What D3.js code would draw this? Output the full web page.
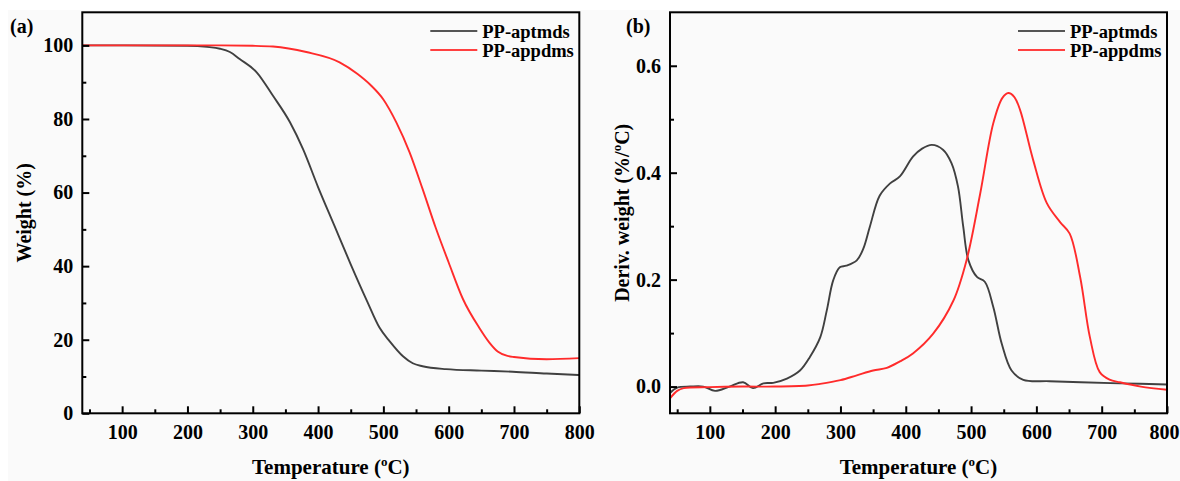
<!DOCTYPE html>
<html>
<head>
<meta charset="utf-8">
<script src="https://cdn.jsdelivr.net/npm/d3@7"></script>
<style>
  html, body { margin: 0; padding: 0; background: #fafafa; }
  svg { display: block; }
  text { font-family: "Liberation Serif", "Times New Roman", serif; font-weight: bold; fill: #000; }
</style>
</head>
<body>
<div id="chart"></div>
<script>
// ── Data ─────────────────────────────────────────────────────────────────────
const SERIES_NAMES = ['PP-aptmds', 'PP-appdms'];
const SERIES_COLORS = ['#404040', '#ff2b2b'];

// (a) TGA curves
const TGA_TEMP_APTMDS   = [39, 100, 200, 230, 250, 265, 280, 306, 331, 357, 377, 400, 425, 450, 475, 494, 510, 530, 545, 560, 596, 650, 698, 750, 800];
const TGA_WEIGHT_APTMDS = [100, 100, 99.9, 99.6, 99.1, 98.2, 96.3, 92.7, 86.3, 79.1, 71.8, 61.5, 51, 40.5, 30.5, 23.3, 19.5, 15.5, 13.6, 12.8, 12.0, 11.6, 11.3, 10.8, 10.4];
const TGA_TEMP_APPDMS   = [39, 250, 300, 331, 382, 433, 460, 480, 500, 520, 540, 560, 580, 600, 622, 647, 662, 675, 690, 700, 750, 800];
const TGA_WEIGHT_APPDMS = [100, 100, 99.9, 99.7, 98.2, 95.4, 92.3, 89.3, 85.3, 79, 71, 61, 50.5, 41, 31, 23.2, 19.3, 16.8, 15.6, 15.3, 14.7, 15.0];

// (b) DTG curves
const DTG_TEMP_APTMDS  = [39, 50, 70, 90, 108, 130, 151, 166, 182, 197, 218, 238, 253, 269, 279, 289, 299, 309, 325, 335, 345, 360, 376, 391, 411, 425, 440, 457, 470, 480, 488, 496, 509, 521, 534, 547, 562, 580, 620, 668, 730, 800];
const DTG_DERIV_APTMDS = [-0.012, -0.002, 0.0, 0.0, -0.008, 0.0, 0.008, -0.003, 0.006, 0.007, 0.015, 0.030, 0.055, 0.092, 0.142, 0.199, 0.223, 0.226, 0.236, 0.258, 0.299, 0.357, 0.380, 0.393, 0.430, 0.445, 0.452, 0.443, 0.418, 0.374, 0.299, 0.236, 0.205, 0.196, 0.149, 0.080, 0.030, 0.0125, 0.010, 0.008, 0.006, 0.004];
const DTG_TEMP_APPDMS  = [39, 50, 60, 100, 150, 200, 250, 269, 300, 325, 350, 371, 391, 411, 442, 473, 493, 514, 534, 548, 557, 566, 575, 595, 616, 636, 651, 667, 682, 697, 712, 728, 760, 800];
const DTG_DERIV_APPDMS = [-0.022, -0.008, -0.003, -0.001, 0.0, 0.0, 0.002, 0.005, 0.012, 0.021, 0.030, 0.035, 0.047, 0.062, 0.099, 0.161, 0.236, 0.361, 0.4925, 0.540, 0.549, 0.542, 0.5175, 0.424, 0.343, 0.308, 0.286, 0.205, 0.092, 0.027, 0.013, 0.008, 0.0, -0.006];

// Axes
const TEMP_DOMAIN   = [39, 800];
const TEMP_MAJOR    = [100, 200, 300, 400, 500, 600, 700, 800];
const TEMP_MINOR    = [50, 150, 250, 350, 450, 550, 650, 750];
const WEIGHT_DOMAIN = [0, 109];
const WEIGHT_MAJOR  = [0, 20, 40, 60, 80, 100];
const WEIGHT_MINOR  = [10, 30, 50, 70, 90];
const DERIV_DOMAIN  = [-0.05, 0.70];
const DERIV_MAJOR   = [0.0, 0.2, 0.4, 0.6];
const DERIV_MINOR   = [0.1, 0.3, 0.5];

const zip = (xs, ys) => xs.map((x, i) => [x, ys[i]]);

// ── Layout ───────────────────────────────────────────────────────────────────
const W = 1180, H = 481;
const svg = d3.select('#chart').append('svg')
  .attr('width', W).attr('height', H);

// white strips around the scanned figure
svg.append('rect').attr('x', 0).attr('y', 0).attr('width', W).attr('height', 10).attr('fill', '#fff');
svg.append('rect').attr('x', 0).attr('y', 0).attr('width', 8).attr('height', H).attr('fill', '#fff');

function drawPanel(opt) {
  const { left, right, top, bottom } = opt;
  const x = d3.scaleLinear().domain(TEMP_DOMAIN).range([left, right]);
  const y = d3.scaleLinear().domain(opt.yDomain).range([bottom, top]);
  const g = svg.append('g');

  // Curves
  const line = d3.line()
    .x(d => x(d[0])).y(d => y(d[1]))
    .curve(opt.curve);
  opt.series.forEach((s, i) => {
    g.append('path')
      .datum(s)
      .attr('fill', 'none')
      .attr('stroke', SERIES_COLORS[i])
      .attr('stroke-width', 1.9)
      .attr('stroke-linejoin', 'round')
      .attr('d', line);
  });

  // Axes (ticks point inward)
  const tickStyle = sel => {
    sel.select('.domain').remove();
    sel.selectAll('line').attr('stroke', '#000').attr('stroke-width', 2);
    sel.selectAll('text')
      .style('font-family', '"Liberation Serif", "Times New Roman", serif')
      .style('font-weight', 'bold').style('font-size', '20px').attr('fill', '#000');
  };

  const xAxis = g.append('g').attr('transform', `translate(0,${bottom})`)
    .call(d3.axisBottom(x).tickValues(TEMP_MAJOR).tickSize(-7).tickPadding(12).tickFormat(d3.format('d')))
    .call(tickStyle);
  // keep the last label inside the window
  if (opt.nudgeLast) {
    xAxis.selectAll('.tick').filter(d => d === 800).select('text').attr('x', opt.nudgeLast);
  }
  g.append('g').attr('transform', `translate(0,${bottom})`)
    .call(d3.axisBottom(x).tickValues(TEMP_MINOR).tickSize(-4).tickFormat(''))
    .call(tickStyle);

  g.append('g').attr('transform', `translate(${left},0)`)
    .call(d3.axisLeft(y).tickValues(opt.yMajor).tickSize(-7).tickPadding(9).tickFormat(opt.yFormat))
    .call(tickStyle);
  g.append('g').attr('transform', `translate(${left},0)`)
    .call(d3.axisLeft(y).tickValues(opt.yMinor).tickSize(-4).tickFormat(''))
    .call(tickStyle);

  // Frame
  g.append('rect')
    .attr('x', left).attr('y', top)
    .attr('width', right - left).attr('height', bottom - top)
    .attr('fill', 'none').attr('stroke', '#000').attr('stroke-width', 2);

  // Panel tag
  g.append('text')
    .attr('x', opt.tagX).attr('y', 33)
    .style('font-size', '20px')
    .text(opt.tag);

  // X title with superscript o
  const xt = g.append('text')
    .attr('x', (left + right) / 2).attr('y', 474)
    .attr('text-anchor', 'middle')
    .style('font-size', '21px');
  xt.append('tspan').text('Temperature (');
  xt.append('tspan').attr('dy', -8).style('font-size', '13px').text('o');
  xt.append('tspan').attr('dy', 8).text('C)');

  // Y title
  const yt = g.append('text')
    .attr('transform', `translate(${opt.yTitleX},${(top + bottom) / 2}) rotate(-90)`)
    .attr('text-anchor', 'middle')
    .style('font-size', '20px');
  opt.yTitle.forEach(part => {
    const t = yt.append('tspan').text(part.text);
    if (part.sup) t.attr('dy', -8).style('font-size', '13px');
    if (part.after) t.attr('dy', 8);
  });

  // Legend
  const lx = right - 149;
  SERIES_NAMES.forEach((name, i) => {
    const ly = 31 + i * 19;
    g.append('line')
      .attr('x1', lx).attr('x2', lx + 47)
      .attr('y1', ly).attr('y2', ly)
      .attr('stroke', i === 0 ? '#555' : '#ff4040')
      .attr('stroke-width', 2);
    g.append('text')
      .attr('x', lx + 52).attr('y', ly + 6.5)
      .style('font-size', '18.5px')
      .text(name);
  });
}

drawPanel({
  left: 82.3, right: 579.3, top: 12.3, bottom: 413.3,
  yDomain: WEIGHT_DOMAIN, yMajor: WEIGHT_MAJOR, yMinor: WEIGHT_MINOR,
  yFormat: d3.format('d'),
  curve: d3.curveMonotoneX,
  series: [zip(TGA_TEMP_APTMDS, TGA_WEIGHT_APTMDS), zip(TGA_TEMP_APPDMS, TGA_WEIGHT_APPDMS)],
  tag: '(a)', tagX: 10,
  yTitleX: 31,
  yTitle: [{ text: 'Weight (%)' }]
});

drawPanel({
  left: 670, right: 1167, top: 12.3, bottom: 413.3,
  yDomain: DERIV_DOMAIN, yMajor: DERIV_MAJOR, yMinor: DERIV_MINOR,
  yFormat: d3.format('.1f'),
  curve: d3.curveCatmullRom.alpha(0.5),
  series: [zip(DTG_TEMP_APTMDS, DTG_DERIV_APTMDS), zip(DTG_TEMP_APPDMS, DTG_DERIV_APPDMS)],
  tag: '(b)', tagX: 626,
  yTitleX: 629,
  yTitle: [{ text: 'Deriv. weight (%/' }, { text: 'o', sup: true }, { text: 'C)', after: true }],
  nudgeLast: -3
});
</script>
</body>
</html>
